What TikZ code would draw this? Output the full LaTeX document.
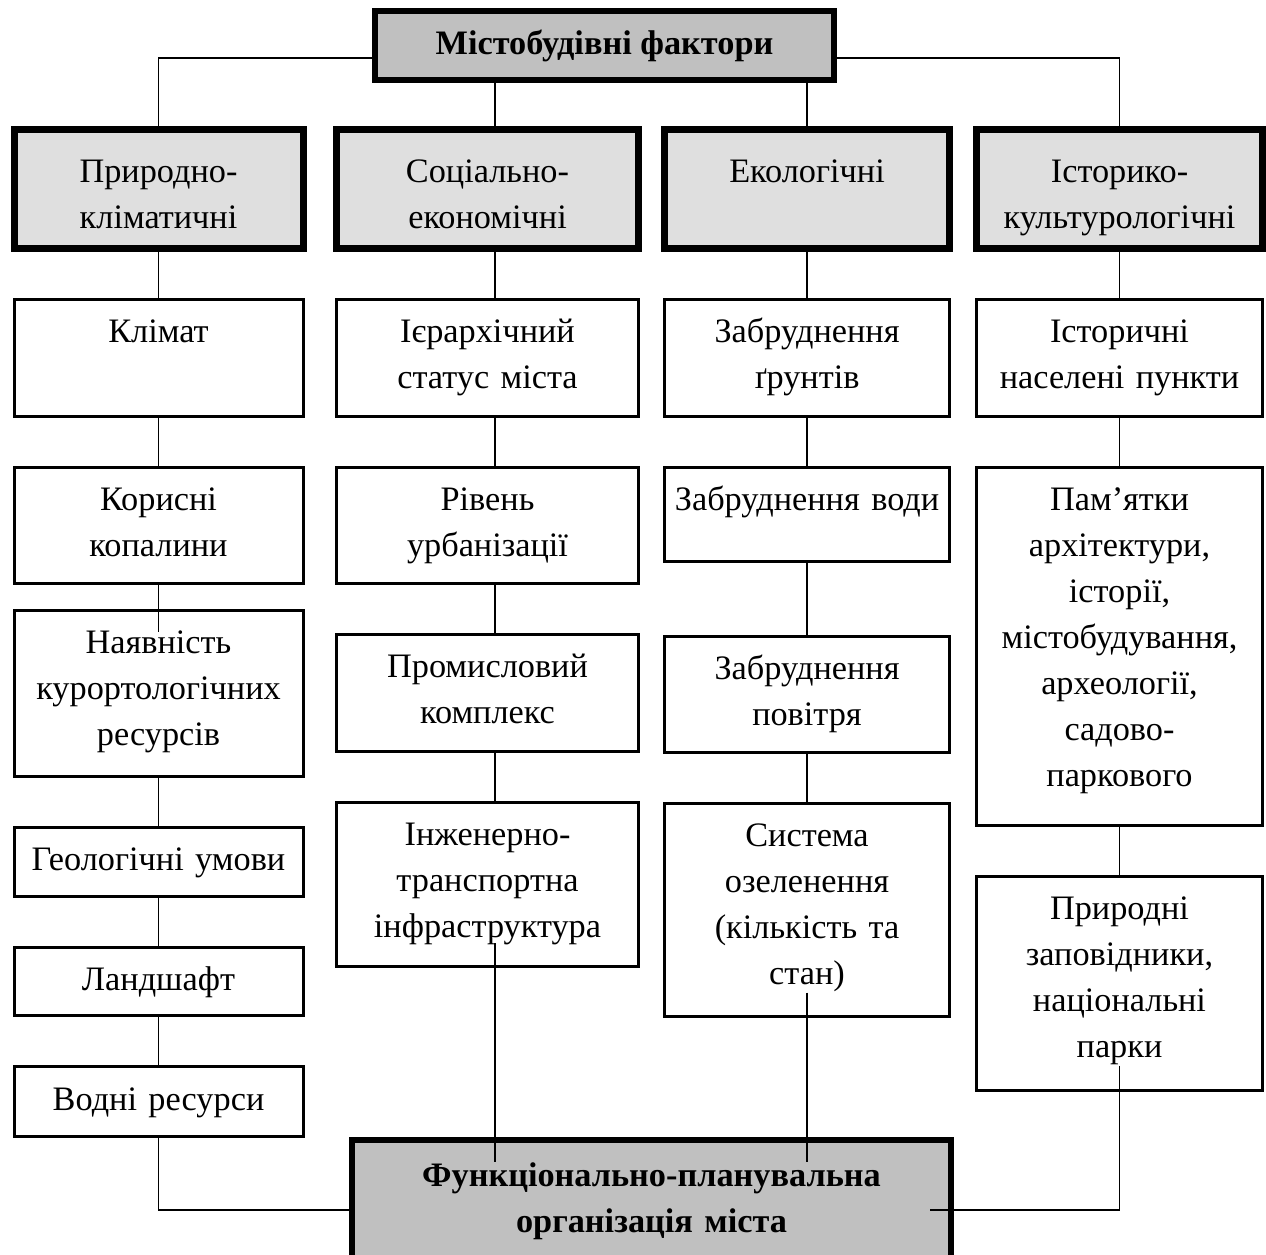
\documentclass[tikz,border=0pt]{standalone}
\usepackage{xcolor}
\usepackage{tikz}
\usepackage{fontspec}
\setmainfont{Liberation Serif}
\usetikzlibrary{positioning}

\definecolor{headgray}{RGB}{223,223,223}
\definecolor{maingray}{RGB}{192,192,192}

\begin{document}
\begin{tikzpicture}[x=0.35pt,y=-0.35pt,node distance=16.8pt,
  font=\fontsize{12pt}{16.1pt}\selectfont,
  mainbox/.style={draw,line width=2.1pt,fill=maingray,align=center,inner sep=0pt,
    font=\fontsize{12pt}{16.1pt}\selectfont\bfseries},
  head/.style={draw,line width=2.45pt,fill=headgray,align=center,anchor=north,
    inner xsep=0pt,inner ysep=0pt,text height=18.7pt,text depth=22.9pt},
  cell/.style={draw,line width=1.05pt,align=center,
    inner xsep=0pt,inner ysep=0pt,text height=15.2pt,text depth=#1},
  cell/.default=25.7pt,
  col1/.style={text width=101.15pt},
  col2/.style={text width=105.7pt},
  col3/.style={text width=99.75pt},
  col4/.style={text width=100.1pt},
  link/.style={line width=0.55pt}]
  \useasboundingbox (0,0) rectangle (1266,1254);

  \node[mainbox,minimum width=160.65pt,minimum height=24.15pt] (top) at (604.5,45.5) {Містобудівні фактори};

  \node[head,col1] (h1) at (158.5,126) {Природно-\\кліматичні};
  \node[head,col2] (h2) at (487.5,126) {Соціально-\\економічні};
  \node[head,col3] (h3) at (807,126) {Екологічні};
  \node[head,col4] (h4) at (1119.5,126) {Історико-\\культурологічні};

  % природно-кліматичні
  \node[cell,col1,below=16.1pt of h1] (klimat) {Клімат};
  \node[cell=25.4pt,col1,below=of klimat] (korysni) {Корисні\\копалини};
  \node[cell=42.9pt,col1,below=8.4pt of korysni] (kurort) {Наявність\\курортологічних\\ресурсів};
  \node[cell=8.9pt,col1,below=of kurort] (geol) {Геологічні умови};
  \node[cell=8.9pt,col1,below=of geol] (landshaft) {Ландшафт};
  \node[cell=9.3pt,col1,below=of landshaft] (vodni) {Водні ресурси};

  % соціально-економічні
  \node[cell,col2,below=16.1pt of h2] (status) {Ієрархічний\\статус міста};
  \node[cell=25.4pt,col2,below=of status] (urban) {Рівень\\урбанізації};
  \node[cell,col2,below=of urban] (prom) {Промисловий\\комплекс};
  \node[cell=42.5pt,col2,below=of prom] (infra) {Інженерно-\\транспортна\\інфраструктура};

  % екологічні
  \node[cell,col3,below=16.1pt of h3] (grunt) {Забруднення\\ґрунтів};
  \node[cell=17.7pt,col3,below=of grunt] (voda) {Забруднення води};
  \node[cell=25.4pt,col3,below=25.2pt of voda] (povitria) {Забруднення\\повітря};
  \node[cell=59.3pt,col3,below=of povitria] (ozelen) {Система\\озеленення\\(кількість та\\стан)};

  % історико-культурологічні
  \node[cell,col4,below=16.1pt of h4] (istor) {Історичні\\населені пункти};
  \node[cell=110.1pt,col4,below=of istor] (pamiatky) {Пам’ятки\\архітектури,\\історії,\\містобудування,\\археології,\\садово-\\паркового};
  \node[cell=59.7pt,col4,below=of pamiatky] (zapov) {Природні\\заповідники,\\національні\\парки};

  \node[mainbox,anchor=north,text width=209.65pt,text height=16.1pt,text depth=30.8pt] (fpo) at (651.5,1137) {Функціонально-планувальна\\організація міста};

  \coordinate (c2) at ([xshift=2.6pt]h2.north);
  \coordinate (fpo in) at ([yshift=-8.75pt]fpo.north);
  \coordinate (fpo left) at ([yshift=-25.5pt]fpo.north west);
  \coordinate (fpo right) at ([xshift=-8.4pt,yshift=-25.5pt]fpo.north east);
  \coordinate (infra out) at ([xshift=2.6pt,yshift=8.75pt]infra.south);
  \coordinate (ozelen out) at ([yshift=8.75pt]ozelen.south);
  \coordinate (zapov out) at ([yshift=9.1pt]zapov.south);

  \draw[link] ([yshift=-4.4pt]top.west) -| (h1.north);
  \draw[link] ([yshift=-4.4pt]top.east) -| (h4.north);
  \draw[link] (c2 |- top.south) -- (c2);
  \draw[link] (h3.north |- top.south) -- (h3.north);

  \path[link]
    (h1) edge (klimat)
    (klimat) edge (korysni)
    (korysni) edge ([yshift=-8pt]kurort.north)
    (kurort) edge (geol)
    (geol) edge (landshaft)
    (landshaft) edge (vodni)
    ([xshift=2.6pt]h2.south) edge ([xshift=2.6pt]status.north)
    ([xshift=2.6pt]status.south) edge ([xshift=2.6pt]urban.north)
    ([xshift=2.6pt]urban.south) edge ([xshift=2.6pt]prom.north)
    ([xshift=2.6pt]prom.south) edge ([xshift=2.6pt]infra.north)
    (h3) edge (grunt)
    (grunt) edge (voda)
    (voda) edge (povitria)
    (povitria) edge (ozelen)
    (h4) edge (istor)
    (istor) edge (pamiatky)
    (pamiatky) edge (zapov);

  \draw[link] (vodni.south) |- (fpo left);
  \draw[link] (infra out) -- (infra out |- fpo in);
  \draw[link] (ozelen out) -- (ozelen out |- fpo in);
  \draw[link] (zapov out) |- (fpo right);
\end{tikzpicture}
\end{document}
